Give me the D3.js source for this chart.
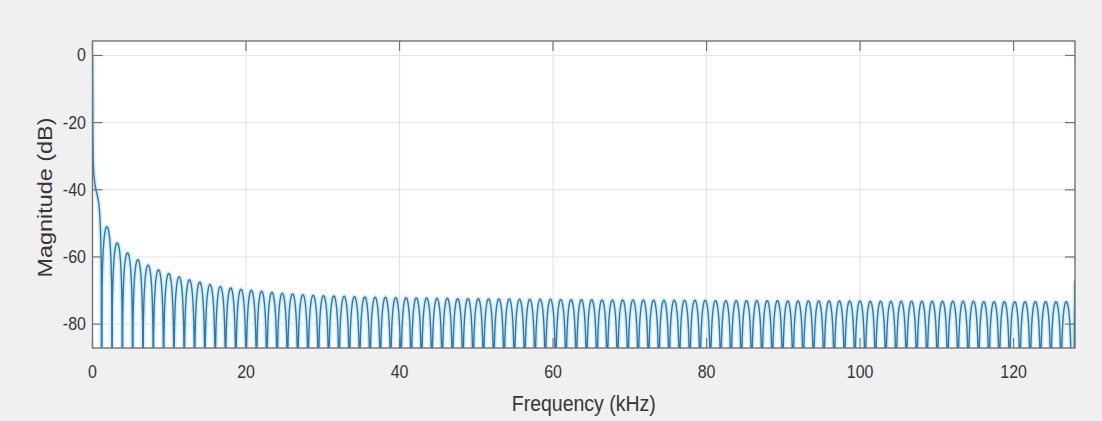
<!DOCTYPE html>
<html>
<head>
<meta charset="utf-8">
<script src="https://cdn.jsdelivr.net/npm/d3@7"></script>
<style>
  html, body { margin: 0; padding: 0; background: #f0f0f0; }
  svg { display: block; }
  text { font-family: "Liberation Sans", Arial, Helvetica, sans-serif; fill: #363636; }
</style>
</head>
<body>
<svg id="chart" width="1102" height="421"></svg>
<script>
// Axis ticks
const xTicks = [0, 20, 40, 60, 80, 100, 120];
const yTicks = [0, -20, -40, -60, -80];

// Main lobe near DC: frequency (kHz) and magnitude (dB)
const mainFreq = [0, 0.04, 0.1, 0.25, 0.45, 0.7, 0.9, 1.05, 1.15, 1.2];
const mainDb   = [0, -20, -32, -37, -40, -42.5, -46, -53, -65, -140];

// Side lobes: first null, null spacing (kHz) and the peak level of each lobe (dB)
const firstNull = 1.2;
const lobeSpacing = 1.344;
const lobePeaks = [
  -51.0, -55.8, -58.8, -60.8, -62.4, -63.8, -64.9, -65.9, -66.8, -67.5,
  -68.2, -68.8, -69.2, -69.6, -69.9, -70.2, -70.5, -70.8, -71.0, -71.2,
  -71.4, -71.5, -71.6, -71.7, -71.8, -71.9, -72.0, -72.0, -72.1, -72.1,
  -72.2, -72.2, -72.3, -72.3, -72.4, -72.4, -72.4, -72.5, -72.5, -72.5,
  -72.6, -72.6, -72.6, -72.6, -72.7, -72.7, -72.7, -72.7, -72.8, -72.8,
  -72.8, -72.8, -72.8, -72.9, -72.9, -72.9, -72.9, -72.9, -72.9, -73.0,
  -73.0, -73.0, -73.0, -73.0, -73.0, -73.0, -73.1, -73.1, -73.1, -73.1,
  -73.1, -73.1, -73.1, -73.1, -73.2, -73.2, -73.2, -73.2, -73.2, -73.2,
  -73.2, -73.2, -73.2, -73.2, -73.2, -73.3, -73.3, -73.3, -73.3, -73.3,
  -73.3, -73.3, -73.3, -73.3
];
// Shape of one lobe: position inside the lobe (0..1) and level below its peak (dB)
const lobePos    = [0, 0.03, 0.06, 0.1, 0.15, 0.2, 0.25, 0.3, 0.35, 0.4, 0.45, 0.5,
                    0.55, 0.6, 0.65, 0.7, 0.75, 0.8, 0.85, 0.9, 0.94, 0.97, 1];
const lobeOffset = [-60, -20.5, -14.6, -10.2, -6.9, -4.6, -3.0, -1.8, -1.0, -0.4, -0.1, 0,
                    -0.1, -0.4, -1.0, -1.8, -3.0, -4.6, -6.9, -10.2, -14.6, -20.5, -60];

// Last bins up to the Nyquist edge
const tailFreq = [127.75, 127.92, 128];
const tailDb   = [-140, -80, -67];

// Layout
const W = 1102, H = 421;
const plot = { left: 92.5, right: 1075, top: 41, bottom: 348 };

const x = d3.scaleLinear().domain([0, 128]).range([plot.left, plot.right]);
const y = d3.scaleLinear().domain([-87.1, 4.3]).range([plot.bottom, plot.top]);

// Assemble the spectrum
const spectrum = [];
mainFreq.forEach((f, i) => spectrum.push({ f, db: mainDb[i] }));
lobePeaks.forEach((peak, i) => {
  const start = firstNull + i * lobeSpacing;
  lobePos.forEach((p, j) => {
    if (i > 0 && j === 0) return;
    spectrum.push({ f: start + p * lobeSpacing, db: peak + lobeOffset[j] });
  });
});
tailFreq.forEach((f, i) => spectrum.push({ f, db: tailDb[i] }));

const svg = d3.select("#chart");
svg.append("rect").attr("width", W).attr("height", H).attr("fill", "#f0f0f0");

svg.append("defs").append("clipPath").attr("id", "plotClip")
  .append("rect")
  .attr("x", plot.left).attr("y", plot.top)
  .attr("width", plot.right - plot.left).attr("height", plot.bottom - plot.top);

// Axes background
svg.append("rect")
  .attr("x", plot.left).attr("y", plot.top)
  .attr("width", plot.right - plot.left).attr("height", plot.bottom - plot.top)
  .attr("fill", "#ffffff");

// Grid
const grid = svg.append("g").attr("stroke", "#e2e2e2").attr("stroke-width", 1);
grid.selectAll("line.gx").data(xTicks.filter(d => d > 0)).join("line")
  .attr("x1", d => x(d)).attr("x2", d => x(d))
  .attr("y1", plot.top).attr("y2", plot.bottom);
grid.selectAll("line.gy").data(yTicks).join("line")
  .attr("x1", plot.left).attr("x2", plot.right)
  .attr("y1", d => y(d)).attr("y2", d => y(d));

// Spectrum line
const curve = d3.line().x(d => x(d.f)).y(d => y(d.db)).curve(d3.curveMonotoneX);
const g = svg.append("g").attr("clip-path", "url(#plotClip)");
g.append("path").datum(spectrum)
  .attr("d", curve)
  .attr("fill", "none")
  .attr("stroke", "#d2eefb")
  .attr("stroke-width", 4.5)
  .attr("stroke-linejoin", "round");
g.append("path").datum(spectrum)
  .attr("d", curve)
  .attr("fill", "none")
  .attr("stroke", "#2f78ae")
  .attr("stroke-width", 1.4)
  .attr("stroke-linejoin", "round");

// Box and inward ticks on all four sides
const axisCol = "#737373";
const tickLen = 10;
svg.append("rect")
  .attr("x", plot.left).attr("y", plot.top)
  .attr("width", plot.right - plot.left).attr("height", plot.bottom - plot.top)
  .attr("fill", "none").attr("stroke", axisCol).attr("stroke-width", 1.4);

const ticks = svg.append("g").attr("stroke", axisCol).attr("stroke-width", 1.2);
xTicks.forEach(d => {
  ticks.append("line").attr("x1", x(d)).attr("x2", x(d)).attr("y1", plot.bottom).attr("y2", plot.bottom - tickLen);
  ticks.append("line").attr("x1", x(d)).attr("x2", x(d)).attr("y1", plot.top).attr("y2", plot.top + tickLen);
});
yTicks.forEach(d => {
  ticks.append("line").attr("x1", plot.left).attr("x2", plot.left + tickLen).attr("y1", y(d)).attr("y2", y(d));
  ticks.append("line").attr("x1", plot.right).attr("x2", plot.right - tickLen).attr("y1", y(d)).attr("y2", y(d));
});

// Tick labels
svg.append("g").selectAll("text").data(xTicks).join("text")
  .attr("transform", d => `translate(${x(d)},378) scale(1,1.15)`)
  .attr("text-anchor", "middle")
  .attr("font-size", 16)
  .text(d => d);
svg.append("g").selectAll("text").data(yTicks).join("text")
  .attr("transform", d => `translate(86,${y(d) + 6}) scale(1,1.15)`)
  .attr("text-anchor", "end")
  .attr("font-size", 16)
  .text(d => d);

// Axis titles
svg.append("text")
  .attr("transform", `translate(${(plot.left + plot.right) / 2},411) scale(1,1.15)`)
  .attr("text-anchor", "middle")
  .attr("font-size", 19.5)
  .text("Frequency (kHz)");
svg.append("text")
  .attr("transform", `translate(52,${(plot.top + plot.bottom) / 2 + 3}) scale(1,1.2) rotate(-90)`)
  .attr("text-anchor", "middle")
  .attr("font-size", 19.5)
  .text("Magnitude (dB)");
</script>
</body>
</html>
